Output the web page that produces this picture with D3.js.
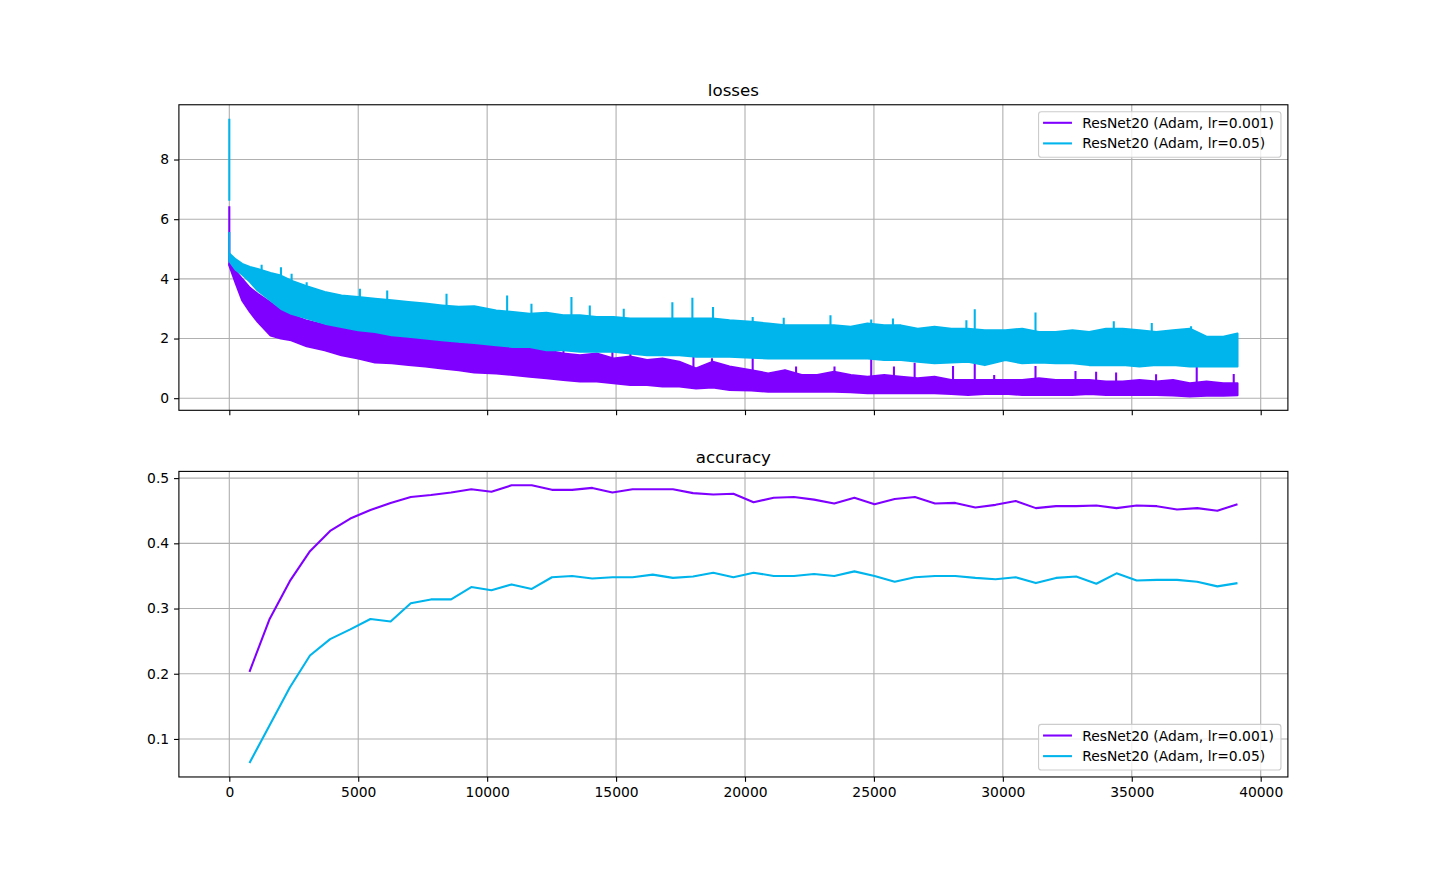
<!DOCTYPE html>
<html><head><meta charset="utf-8">
<script src="https://cdn.jsdelivr.net/npm/d3@7"></script>
<style>
body{margin:0;background:#fff}
svg{display:block}
text{font-family:"DejaVu Sans",sans-serif}
</style>
</head><body>
<svg id="chart" width="1431" height="873"></svg>
<script>
// ---------------- DATA ----------------
const seriesNames = ["ResNet20 (Adam, lr=0.001)", "ResNet20 (Adam, lr=0.05)"];
const seriesColors = ["#8000ff", "#00b4ec"];
const titles = ["losses", "accuracy"];
const xTicks = [0, 5000, 10000, 15000, 20000, 25000, 30000, 35000, 40000];
const lossTicks = [0, 2, 4, 6, 8];
const accTicks = [0.1, 0.2, 0.3, 0.4, 0.5];

// loss: read envelope (upper / lower edge) of the noisy per-iteration loss band
const lossIters  = [0, 250, 500, 800, 1100, 1600, 2000, 2400, 3000, 3700, 4350, 5000, 5650, 6300, 6950, 7600, 8250, 8900, 9500, 10350, 11000, 11650, 12300, 12950, 13600, 14250, 14900, 15550, 16200, 16800, 17450, 18100, 18750, 19400, 20250, 20900, 21550, 22200, 22800, 23450, 24100, 24750, 25400, 26050, 26700, 27350, 28000, 28650, 29300, 30100, 30750, 31400, 32050, 32700, 33350, 34000, 34650, 35300, 35950, 36600, 37250, 37900, 38550, 39100];
const lossUpperA = [4.50, 4.25, 4.00, 3.70, 3.50, 3.20, 2.95, 2.80, 2.60, 2.45, 2.35, 2.25, 2.18, 2.08, 2.02, 1.96, 1.90, 1.85, 1.82, 1.74, 1.67, 1.72, 1.61, 1.50, 1.44, 1.50, 1.33, 1.40, 1.28, 1.33, 1.22, 1.00, 1.22, 1.06, 0.94, 0.83, 0.94, 0.78, 0.78, 0.89, 0.78, 0.72, 0.78, 0.72, 0.67, 0.72, 0.61, 0.61, 0.61, 0.61, 0.61, 0.67, 0.61, 0.61, 0.61, 0.56, 0.56, 0.61, 0.56, 0.61, 0.50, 0.56, 0.50, 0.50];
const lossLowerA = [4.45, 3.85, 3.28, 2.89, 2.56, 2.10, 2.00, 1.94, 1.74, 1.61, 1.44, 1.33, 1.20, 1.17, 1.11, 1.06, 1.00, 0.94, 0.86, 0.83, 0.78, 0.72, 0.67, 0.61, 0.56, 0.56, 0.50, 0.44, 0.44, 0.39, 0.39, 0.33, 0.36, 0.28, 0.26, 0.22, 0.22, 0.22, 0.22, 0.22, 0.20, 0.17, 0.17, 0.17, 0.17, 0.17, 0.14, 0.11, 0.14, 0.15, 0.11, 0.11, 0.11, 0.11, 0.14, 0.11, 0.11, 0.11, 0.11, 0.09, 0.06, 0.08, 0.08, 0.10];
const lossUpperB = [4.85, 4.65, 4.50, 4.40, 4.33, 4.20, 4.11, 3.94, 3.75, 3.56, 3.44, 3.39, 3.33, 3.28, 3.22, 3.17, 3.11, 3.06, 3.08, 2.94, 2.89, 2.83, 2.86, 2.78, 2.78, 2.72, 2.72, 2.67, 2.67, 2.67, 2.67, 2.67, 2.67, 2.61, 2.56, 2.50, 2.44, 2.44, 2.44, 2.44, 2.39, 2.50, 2.44, 2.44, 2.33, 2.39, 2.33, 2.33, 2.28, 2.28, 2.33, 2.22, 2.22, 2.28, 2.22, 2.33, 2.33, 2.28, 2.22, 2.28, 2.33, 2.06, 2.06, 2.17];
const lossLowerB = [4.60, 4.30, 4.15, 3.90, 3.61, 3.28, 3.00, 2.83, 2.68, 2.50, 2.39, 2.28, 2.22, 2.11, 2.06, 2.00, 1.94, 1.89, 1.85, 1.78, 1.72, 1.72, 1.61, 1.61, 1.56, 1.56, 1.56, 1.50, 1.44, 1.44, 1.44, 1.39, 1.39, 1.39, 1.36, 1.33, 1.33, 1.33, 1.33, 1.33, 1.33, 1.33, 1.28, 1.28, 1.22, 1.17, 1.20, 1.22, 1.11, 1.28, 1.17, 1.20, 1.17, 1.17, 1.11, 1.11, 1.11, 1.06, 1.11, 1.11, 1.06, 1.06, 1.06, 1.06];
// isolated spikes [iteration, peak, (optional) base]
const lossSpikesA = [[0, 6.43, 4.45], [12960, 1.66], [14858, 1.61], [15556, 1.60], [18000, 1.45], [18720, 1.34], [20298, 1.41], [21981, 1.06], [23471, 1.06], [24895, 1.39], [25776, 1.06], [26579, 1.19], [28068, 1.08], [28910, 1.30], [29664, 0.78], [31266, 1.08], [32817, 0.91], [33618, 0.89], [34393, 0.86], [35943, 0.80], [37519, 1.06], [38954, 0.81]];
const lossSpikesB = [[0, 9.37, 6.62], [0, 5.57, 4.80], [1253, 4.47], [2003, 4.39], [2416, 4.17], [3000, 3.89], [5065, 3.67], [6124, 3.61], [8424, 3.50], [10775, 3.44], [11718, 3.17], [13269, 3.39], [13980, 3.11], [15297, 3.00], [17183, 3.22], [17959, 3.37], [18760, 3.06], [20298, 2.72], [21502, 2.70], [23315, 2.78], [24895, 2.64], [25737, 2.67], [28586, 2.61], [28910, 2.98], [31266, 2.87], [34302, 2.58], [35775, 2.52], [37300, 2.41]];

// accuracy, evaluated every 782 iterations
const accIters = [782, 1564, 2346, 3128, 3910, 4692, 5474, 6256, 7038, 7820, 8602, 9384, 10166, 10948, 11730, 12512, 13294, 14076, 14858, 15640, 16422, 17204, 17986, 18768, 19550, 20332, 21114, 21896, 22678, 23460, 24242, 25024, 25806, 26588, 27370, 28152, 28934, 29716, 30498, 31280, 32062, 32844, 33626, 34408, 35190, 35972, 36754, 37536, 38318, 39100];
const accA = [0.203, 0.284, 0.342, 0.388, 0.419, 0.438, 0.451, 0.462, 0.471, 0.474, 0.478, 0.483, 0.479, 0.489, 0.489, 0.482, 0.482, 0.485, 0.478, 0.483, 0.483, 0.483, 0.477, 0.475, 0.476, 0.463, 0.470, 0.471, 0.467, 0.461, 0.470, 0.460, 0.468, 0.471, 0.461, 0.462, 0.455, 0.459, 0.465, 0.454, 0.457, 0.457, 0.458, 0.454, 0.458, 0.457, 0.452, 0.454, 0.450, 0.460];
const accB = [0.063, 0.121, 0.179, 0.228, 0.253, 0.268, 0.284, 0.280, 0.308, 0.314, 0.314, 0.333, 0.328, 0.337, 0.330, 0.348, 0.350, 0.346, 0.348, 0.348, 0.352, 0.347, 0.349, 0.355, 0.348, 0.355, 0.350, 0.350, 0.353, 0.350, 0.357, 0.350, 0.341, 0.348, 0.350, 0.350, 0.347, 0.345, 0.348, 0.339, 0.347, 0.349, 0.338, 0.354, 0.343, 0.344, 0.344, 0.341, 0.334, 0.339];

// ---------------- LAYOUT ----------------
const L = 178.9, R = 1287.9;
const topT = 104.76, topB = 410.3, botT = 471.4, botB = 776.97;
const PT = 100 / 72;
const FS = 10 * PT, TICK = 3.5 * PT, LW = 0.8 * PT, LINE = 1.5 * PT;
const pad = ([a, b]) => [a - 0.05 * (b - a), b + 0.05 * (b - a)];

const svg = d3.select("#chart");
svg.append("rect").attr("width", 1431).attr("height", 873).attr("fill", "#fff");

const x = d3.scaleLinear().domain(pad([0, 39100])).range([L, R]);

const lossVals = [].concat(lossUpperA, lossLowerA, lossUpperB, lossLowerB, lossSpikesA.map(d => d[1]), lossSpikesB.map(d => d[1]));
const yLoss = d3.scaleLinear().domain(pad(d3.extent(lossVals))).range([topB, topT]);
const yAcc = d3.scaleLinear().domain(pad(d3.extent(accA.concat(accB)))).range([botB, botT]);

function frame(id, y, yTicks, yFmt, t, b, showXLabels, title) {
  const g = svg.append("g");
  const clipId = "clip" + id;
  svg.append("clipPath").attr("id", clipId).append("rect")
    .attr("x", L).attr("y", t).attr("width", R - L).attr("height", b - t);
  const grid = g.append("g").attr("stroke", "#b0b0b0").attr("stroke-width", LW);
  grid.selectAll(".gx").data(xTicks).join("line").attr("class", "gx")
    .attr("x1", d => x(d)).attr("x2", d => x(d)).attr("y1", t).attr("y2", b);
  grid.selectAll(".gy").data(yTicks).join("line").attr("class", "gy")
    .attr("x1", L).attr("x2", R).attr("y1", d => y(d)).attr("y2", d => y(d));
  const plot = g.append("g").attr("clip-path", `url(#${clipId})`);
  const ax = g.append("g").attr("transform", `translate(0,${b})`)
    .call(d3.axisBottom(x).tickValues(xTicks).tickSize(TICK).tickPadding(3.5 * PT)
      .tickFormat(d => showXLabels ? d : ""));
  const ay = g.append("g").attr("transform", `translate(${L},0)`)
    .call(d3.axisLeft(y).tickValues(yTicks).tickSize(TICK).tickPadding(3.5 * PT).tickFormat(yFmt));
  [ax, ay].forEach(a => {
    a.select(".domain").remove();
    a.selectAll("line").attr("stroke", "#000").attr("stroke-width", LW);
    a.selectAll("text").attr("font-size", FS).attr("fill", "#000")
      .attr("font-family", "DejaVu Sans, sans-serif");
  });
  g.append("text").attr("x", (L + R) / 2).attr("y", t - 6 * PT).attr("text-anchor", "middle")
    .attr("font-size", 12 * PT).attr("fill", "#000").text(title);
  return { g, plot };
}

function legend(g, yTop) {
  const bw = 242.4, bh = 45.6, bx = R - 0.5 * FS - bw;
  const lg = g.append("g");
  lg.append("rect").attr("x", bx).attr("y", yTop).attr("width", bw).attr("height", bh)
    .attr("rx", 2.8).attr("fill", "#fff").attr("fill-opacity", 0.8)
    .attr("stroke", "#cccccc").attr("stroke-width", LW);
  seriesNames.forEach((name, i) => {
    const cy = yTop + 11.1 + i * 20.6;
    lg.append("line").attr("x1", bx + 4.5).attr("x2", bx + 33.4).attr("y1", cy).attr("y2", cy)
      .attr("stroke", seriesColors[i]).attr("stroke-width", LINE);
    lg.append("text").attr("x", bx + 43.6).attr("y", cy).attr("dy", "0.36em")
      .attr("font-size", FS).attr("fill", "#000").text(name);
  });
}

// ---------------- TOP: LOSSES ----------------
const lossAx = frame("t", yLoss, lossTicks, d => d, topT, topB, false, titles[0]);
const bands = [
  { up: lossUpperA, lo: lossLowerA, spikes: lossSpikesA, c: seriesColors[0] },
  { up: lossUpperB, lo: lossLowerB, spikes: lossSpikesB, c: seriesColors[1] }
];
bands.forEach(bd => {
  const rows = lossIters.map((it, i) => ({ it, u: bd.up[i], l: bd.lo[i] }));
  lossAx.plot.append("path").datum(rows)
    .attr("d", d3.area().x(d => x(d.it)).y0(d => yLoss(d.l)).y1(d => yLoss(d.u)))
    .attr("fill", bd.c).attr("stroke", bd.c).attr("stroke-width", LINE).attr("stroke-linejoin", "round");
  const upAt = d3.scaleLinear().domain(lossIters).range(bd.up);
  lossAx.plot.append("g").selectAll("line").data(bd.spikes).join("line")
    .attr("x1", d => x(d[0])).attr("x2", d => x(d[0]))
    .attr("y1", d => yLoss(d[1]))
    .attr("y2", d => yLoss(d.length > 2 ? d[2] : upAt(d[0]) - 0.05))
    .attr("stroke", bd.c).attr("stroke-width", LINE);
});
lossAx.g.append("rect").attr("x", L).attr("y", topT).attr("width", R - L).attr("height", topB - topT)
  .attr("fill", "none").attr("stroke", "#000").attr("stroke-width", LW);
legend(lossAx.g, topT + 0.5 * FS);

// ---------------- BOTTOM: ACCURACY ----------------
const accAx = frame("b", yAcc, accTicks, d3.format(".1f"), botT, botB, true, titles[1]);
[accA, accB].forEach((vals, i) => {
  const pts = accIters.map((it, k) => [it, vals[k]]);
  accAx.plot.append("path").datum(pts)
    .attr("d", d3.line().x(d => x(d[0])).y(d => yAcc(d[1])))
    .attr("fill", "none").attr("stroke", seriesColors[i]).attr("stroke-width", LINE)
    .attr("stroke-linejoin", "round");
});
accAx.g.append("rect").attr("x", L).attr("y", botT).attr("width", R - L).attr("height", botB - botT)
  .attr("fill", "none").attr("stroke", "#000").attr("stroke-width", LW);
legend(accAx.g, botB - 0.5 * FS - 45.6);
</script>
</body></html>
